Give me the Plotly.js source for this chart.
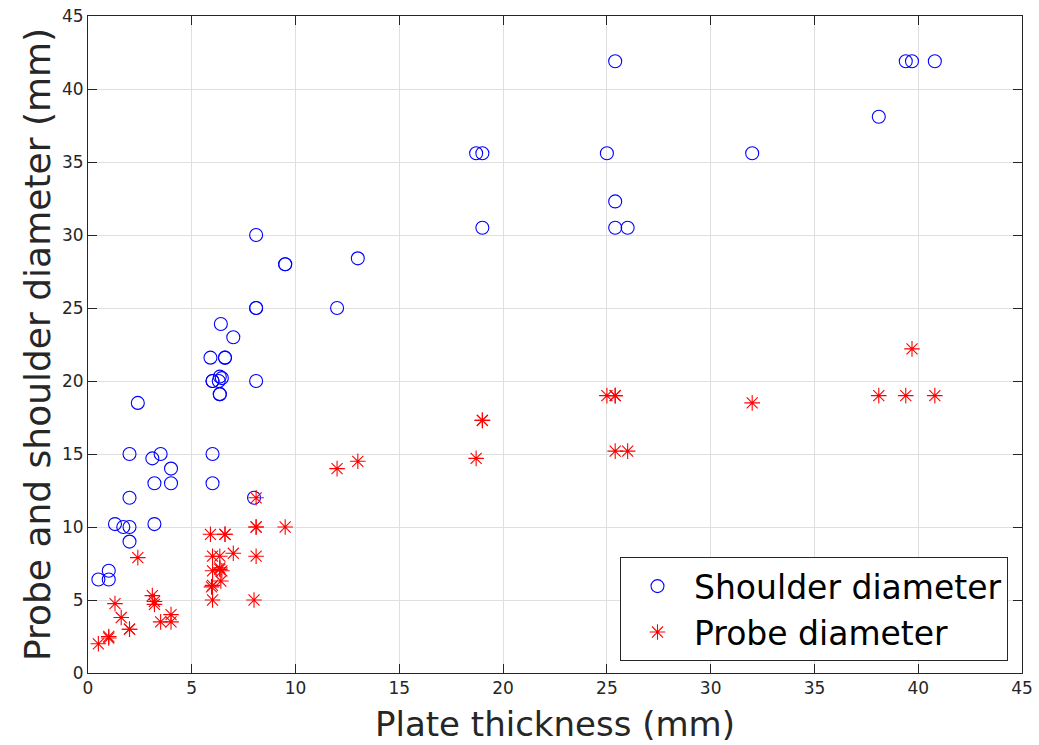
<!DOCTYPE html>
<html>
<head>
<meta charset="utf-8">
<script src="https://cdn.plot.ly/plotly-3.0.1.min.js"></script>
<style>html,body{margin:0;padding:0;background:#fff;}#chart{width:1039px;height:745px;}</style>
</head>
<body>
<div id="chart"></div>
<script>
// Shoulder diameter (mm) vs plate thickness (mm)
const shoulderThickness = [0.5, 1, 1, 1.3, 1.7, 2, 2, 2, 2, 2.4, 3.1, 3.5, 3.2, 3.2, 4, 4,
  5.9, 6.6, 6.6, 6, 6, 6.35, 6.45, 6.3, 6.35, 6.35, 6, 6, 6.4, 7,
  8.1, 8.1, 8.1, 8.1, 8, 9.5, 9.5, 12, 13, 18.7, 19, 19,
  25, 25.4, 25.4, 25.4, 26, 32, 38.1, 39.4, 39.7, 40.8];
const shoulderDiameter = [6.4, 6.4, 7, 10.2, 10, 10, 9, 12, 15, 18.5, 14.7, 15, 13, 10.2, 14, 13,
  21.6, 21.6, 21.6, 20, 20, 20.3, 20.2, 20, 19.1, 19.1, 15, 13, 23.9, 23,
  30, 25, 25, 20, 12, 28, 28, 25, 28.4, 35.6, 35.6, 30.5,
  35.6, 41.9, 32.3, 30.5, 30.5, 35.6, 38.1, 41.9, 41.9, 41.9];

// Probe diameter (mm) vs plate thickness (mm)
const probeThickness = [0.5, 1, 1, 1.3, 1.6, 2, 2, 2.4, 3.1, 3.2, 3.2, 3.5, 4, 4,
  5.9, 6.6, 6.6, 6, 6.35, 7, 6, 6.35, 6.35, 6.45, 6.4, 6, 5.95, 6,
  8.1, 8.1, 8.1, 9.5, 8.1, 8, 12, 13, 18.7, 19, 19,
  25, 25.4, 25.4, 25.4, 26, 32, 38.1, 39.4, 39.7, 40.8];
const probeDiameter = [2, 2.4, 2.5, 4.75, 3.8, 3, 3, 7.9, 5.3, 4.9, 4.7, 3.5, 4, 3.5,
  9.5, 9.5, 9.5, 8, 8, 8.2, 7, 7.1, 7.2, 7, 6.3, 6, 5.9, 5,
  12, 10, 10, 10, 8, 5, 14, 14.5, 14.7, 17.3, 17.3,
  19, 19, 19, 15.2, 15.2, 18.5, 19, 19, 22.2, 19];

const seriesNames = ['Shoulder diameter', 'Probe diameter'];
const xTitle = 'Plate thickness (mm)';
const yTitle = 'Probe and shoulder diameter (mm)';

const traces = [
  {x: shoulderThickness, y: shoulderDiameter, name: seriesNames[0], type: 'scatter', mode: 'markers',
   marker: {symbol: 'circle-open', size: 13, color: '#0000ff', line: {width: 1.1, color: '#0000ff'}}},
  {x: probeThickness, y: probeDiameter, name: seriesNames[1], type: 'scatter', mode: 'markers',
   marker: {symbol: 'asterisk-open', size: 13, color: '#ff0000', line: {width: 1.1, color: '#ff0000'}}}
];

const axisCommon = {
  range: [0, 45], dtick: 5, tick0: 0, showgrid: true, gridcolor: '#dfdfdf', gridwidth: 1,
  zeroline: false, showline: true, linecolor: '#262626', linewidth: 1, mirror: 'ticks',
  ticks: 'inside', ticklen: 9, tickwidth: 1, tickcolor: '#262626',
  tickfont: {family: 'DejaVu Sans', size: 17, color: '#262626'}
};

const layout = {
  width: 1039, height: 745,
  margin: {l: 88, r: 17, t: 16, b: 72},
  paper_bgcolor: '#ffffff', plot_bgcolor: '#ffffff',
  showlegend: true,
  xaxis: Object.assign({}, axisCommon, {title: {text: xTitle, font: {family: 'DejaVu Sans', size: 34, color: '#262626'}, standoff: 14}}),
  yaxis: Object.assign({}, axisCommon, {title: {text: yTitle, font: {family: 'DejaVu Sans', size: 36, color: '#262626'}, standoff: 0}}),
  legend: {x: 0.985, y: 0.018, xanchor: 'right', yanchor: 'bottom', bgcolor: '#ffffff',
    bordercolor: '#262626', borderwidth: 1, itemwidth: 63,
    font: {family: 'DejaVu Sans', size: 33, color: '#000000'}, tracegroupgap: 0}
};

Plotly.newPlot('chart', traces, layout, {displayModeBar: false, staticPlot: true});
</script>
</body>
</html>
